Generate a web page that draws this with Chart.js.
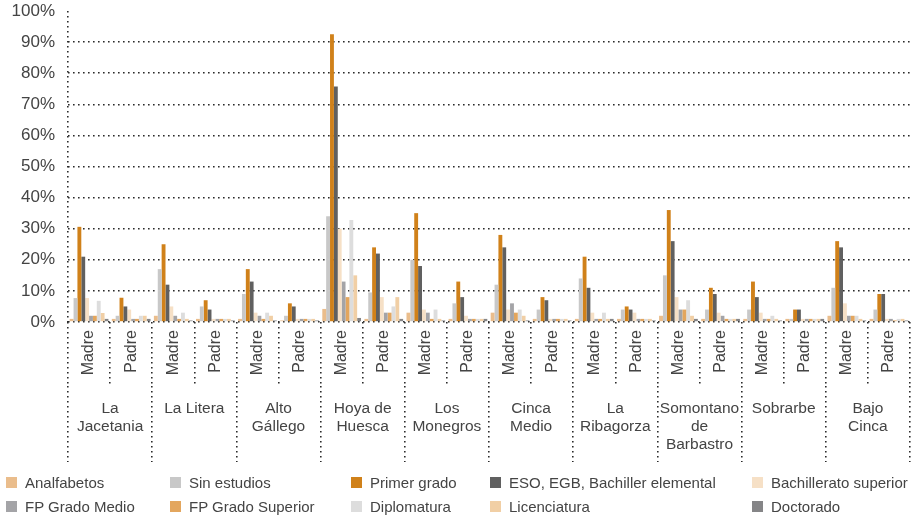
<!DOCTYPE html>
<html><head><meta charset="utf-8">
<script src="https://cdn.jsdelivr.net/npm/chart.js@4.4.1/dist/chart.umd.min.js"></script>
<style>
html,body{margin:0;padding:0;background:#fff;}
#wrap{position:relative;width:913px;height:520px;overflow:hidden;}
canvas{position:absolute;left:0;top:0;}
.lg{position:absolute;font:15px 'Liberation Sans',Arial,sans-serif;color:#444;white-space:nowrap;line-height:18px;padding-left:19px;}
.lg i{position:absolute;left:0;top:3px;width:11px;height:11px;}
</style></head><body>
<div id="wrap"><canvas id="c" width="913" height="520"></canvas></div>
<script>
// ---- data ----
const comarcas = [['La','Jacetania'],['La Litera'],['Alto','Gállego'],['Hoya de','Huesca'],['Los','Monegros'],['Cinca','Medio'],['La','Ribagorza'],['Somontano','de','Barbastro'],['Sobrarbe'],['Bajo','Cinca']];
const parentLabels = ['Madre','Padre'];
const seriesNames = ['Analfabetos','Sin estudios','Primer grado','ESO, EGB, Bachiller elemental','Bachillerato superior','FP Grado Medio','FP Grado Superior','Diplomatura','Licenciatura','Doctorado'];
// order: for each comarca -> Madre, Padre
const analfabetos   = [1,1, 2,1, 1,0.5, 4.2,1, 3,1, 3,1, 1,1, 2,1, 1,1, 2,1];
const sinEstudios   = [7.7,2, 17,5, 9,2, 34,9.5, 20,6, 12,4, 14,4, 15,4, 4,1, 11,4];
const primerGrado   = [30.6,7.8, 25,7, 17,6, 92.5,24, 35,13, 28,8, 21,5, 36,11, 13,4, 26,9];
const eso           = [21,5, 12,4, 13,5, 75.7,22, 18,8, 24,7, 11,4, 26,9, 8,4, 24,9];
const bachillerato  = [7.7,4, 5,1, 3,1, 30,8, 4,2, 4,1, 3,3, 8,3, 3,1, 6,1];
const fpMedio       = [2,1, 2,1, 2,1, 13,3, 3,1, 6,1, 1,1, 4,2, 1,1, 2,1];
const fpSuperior    = [2,1, 1,1, 1,1, 8,3, 1,1, 3,1, 1,1, 4,1, 1,1, 2,0.5];
const diplomatura   = [6.8,2, 3,1, 3,1, 32.8,5, 4,1, 4,1, 3,1, 7,1, 2,1, 2,1];
const licenciatura  = [2.9,2, 1,1, 2,1, 15,8, 1,1, 2,1, 1,1, 2,1, 1,1, 1,1];
const doctorado     = [1,1, 0.5,0.5, 0.5,0.5, 1.3,1, 0.5,1, 0.5,0.5, 1,0.5, 1,1, 0.5,1, 0.5,0.5];
const yTickValues = [0,10,20,30,40,50,60,70,80,90,100];

// ---- styles ----
const seriesData = [analfabetos,sinEstudios,primerGrado,eso,bachillerato,fpMedio,fpSuperior,diplomatura,licenciatura,doctorado];
const colors = ['#EABD8C','#C8C8C8','#D0811A','#606060','#F6E0C6','#A4A4A7','#E3A65E','#DDDDDD','#F1CFA5','#858587'];
const DARK = '#2a2a2a';
const TXT = '#444';
const DASH = [1.6,3.4];
Chart.defaults.font.family = "'Liberation Sans', Arial, sans-serif";

const subLabels = [];
comarcas.forEach(()=>parentLabels.forEach(p=>subLabels.push(p)));

new Chart(document.getElementById('c'), {
  type:'bar',
  data:{
    labels: subLabels,
    datasets: seriesNames.map((n,i)=>({label:n,data:seriesData[i],backgroundColor:colors[i],borderWidth:0,categoryPercentage:0.92,barPercentage:1}))
  },
  options:{
    responsive:false, animation:false,
    layout:{padding:{left:0,right:3,top:11,bottom:58}},
    plugins:{legend:{display:false},tooltip:{enabled:false}},
    scales:{
      x:{
        type:'category', position:'bottom', weight:0, offset:true,
        grid:{offset:true, drawOnChartArea:true, color:c=>c.index===0?DARK:'rgba(0,0,0,0)', tickColor:DARK, tickLength:64, lineWidth:1.6, tickWidth:1.6, borderDash:DASH, tickBorderDash:DASH},
        border:{display:false, dash:DASH},
        ticks:{autoSkip:false, maxRotation:90, minRotation:90, padding:-56, font:{size:16}, color:TXT},
        afterFit:s=>{s.height=64;}
      },
      x2:{
        type:'category', labels:comarcas, position:'bottom', weight:1, offset:true,
        grid:{offset:true, drawOnChartArea:false, color:DARK, tickColor:DARK, tickLength:76, lineWidth:1.6, tickWidth:1.6, borderDash:DASH, tickBorderDash:DASH},
        border:{display:false, dash:DASH},
        ticks:{autoSkip:false, maxRotation:0, minRotation:0, padding:-62, font:{size:15.5, lineHeight:1.16}, color:TXT},
        afterFit:s=>{s.height=76;}
      },
      y:{
        min:0, max:100,
        afterBuildTicks:s=>{s.ticks=yTickValues.map(v=>({value:v}));},
        ticks:{callback:v=>v+'%', padding:13, font:{size:17}, color:TXT},
        grid:{color:c=>(c.tick && c.tick.value===100)?'rgba(0,0,0,0)':DARK, lineWidth:1.6, drawTicks:false, borderDash:DASH},
        border:{display:false, dash:DASH},
        afterFit:s=>{s.width=68; s.paddingTop=0; s.paddingBottom=0;}
      }
    }
  }
});

// ---- HTML legend ----
const legendCols = [6,170,351,490,752];
const legendRows = [474,498];
const wrap = document.getElementById('wrap');
seriesNames.forEach((n,i)=>{
  const d = document.createElement('div');
  d.className='lg';
  d.style.left = legendCols[i%5]+'px';
  d.style.top = legendRows[Math.floor(i/5)]+'px';
  const sw = document.createElement('i');
  sw.style.background = colors[i];
  d.appendChild(sw);
  d.appendChild(document.createTextNode(n));
  wrap.appendChild(d);
});
</script>
</body></html>
